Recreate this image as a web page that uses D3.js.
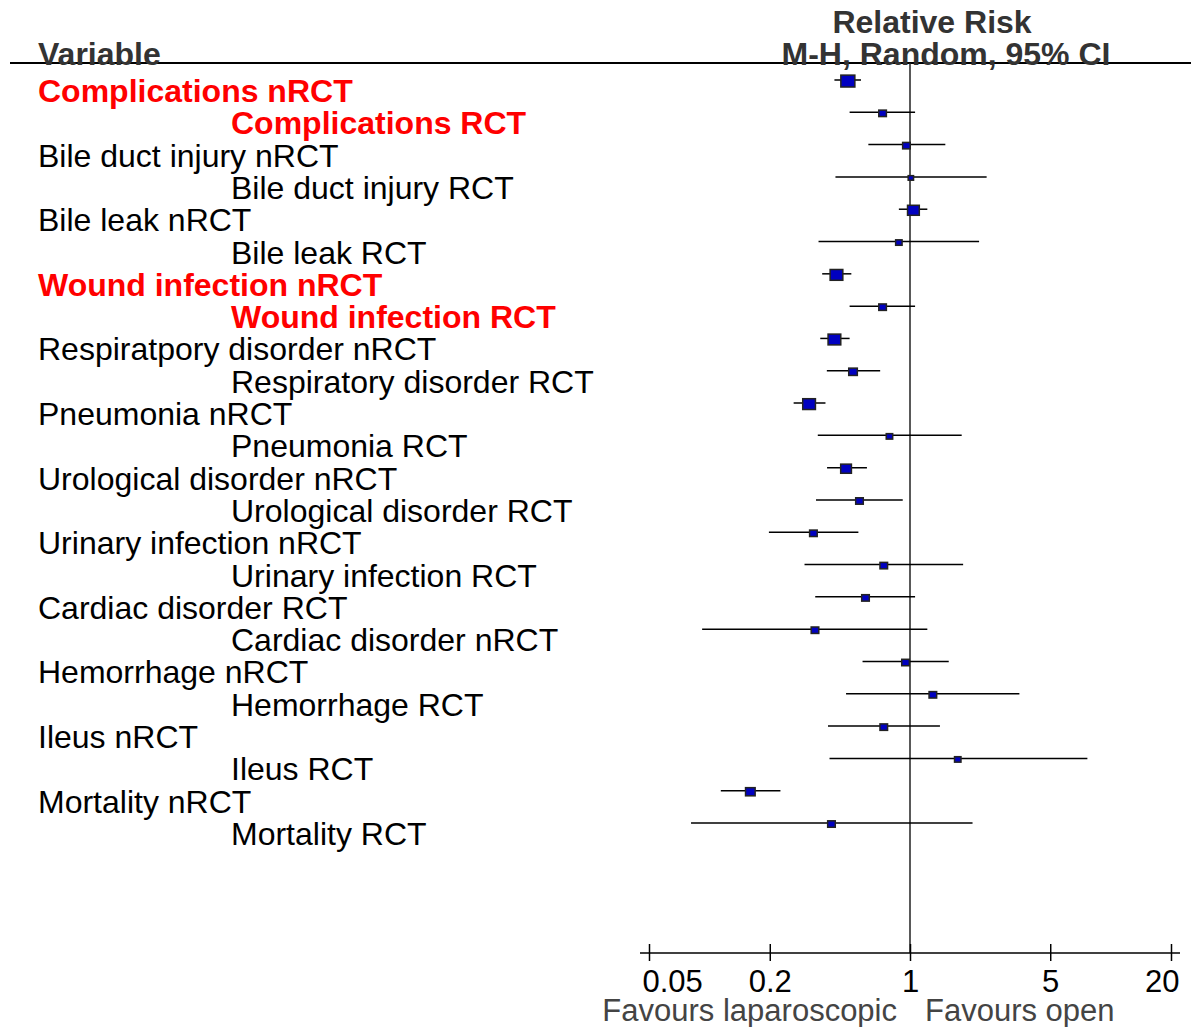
<!DOCTYPE html>
<html>
<head>
<meta charset="utf-8">
<script src="https://cdn.jsdelivr.net/npm/d3@7"></script>
<style>
  body { margin: 0; background: #fff; }
  svg text { font-family: "Liberation Sans", Arial, sans-serif; }
</style>
</head>
<body>
<div class="chart"></div>
<script>
// forest plot data, one entry per row (top to bottom)
var variables = [
  "Complications nRCT", "Complications RCT",
  "Bile duct injury nRCT", "Bile duct injury RCT",
  "Bile leak nRCT", "Bile leak RCT",
  "Wound infection nRCT", "Wound infection RCT",
  "Respiratpory disorder nRCT", "Respiratory disorder RCT",
  "Pneumonia nRCT", "Pneumonia RCT",
  "Urological disorder nRCT", "Urological disorder RCT",
  "Urinary infection nRCT", "Urinary infection RCT",
  "Cardiac disorder RCT", "Cardiac disorder nRCT",
  "Hemorrhage nRCT", "Hemorrhage RCT",
  "Ileus nRCT", "Ileus RCT",
  "Mortality nRCT", "Mortality RCT"
];
var indented = [0,1,0,1,0,1,0,1,0,1,0,1,0,1,0,1,0,1,0,1,0,1,0,1];
var highlighted = [1,1,0,0,0,0,1,1,0,0,0,0,0,0,0,0,0,0,0,0,0,0,0,0];

var rr    = [0.49, 0.73, 0.96, 1.01, 1.04, 0.88, 0.43, 0.73, 0.42, 0.52, 0.314, 0.79,
             0.48, 0.56, 0.33, 0.74, 0.60, 0.336, 0.95, 1.30, 0.74, 1.73, 0.16, 0.406];
var lower = [0.42, 0.50, 0.62, 0.425, 0.88, 0.35, 0.365, 0.50, 0.357, 0.385, 0.263, 0.347,
             0.386, 0.34, 0.198, 0.298, 0.337, 0.092, 0.58, 0.48, 0.39, 0.397, 0.114, 0.081];
var upper = [0.57, 1.06, 1.50, 2.41, 1.22, 2.21, 0.51, 1.06, 0.50, 0.71, 0.379, 1.81,
             0.61, 0.92, 0.553, 1.84, 1.06, 1.22, 1.56, 3.51, 1.41, 7.66, 0.226, 2.05];
var weight = [17, 5, 5, 2.5, 12, 3.6, 14, 5, 14, 6.4, 14, 3.6,
              10, 5, 5, 5, 5, 5, 5, 5, 5, 3.6, 8, 5];

var tickValues = [0.05, 0.2, 1, 5, 20];

var svgWidth = 1191;
var svgHeight = 1027;

var svg = d3.select(".chart")
  .append("svg")
  .attr("width", svgWidth)
  .attr("height", svgHeight);

var xScale = d3.scaleLog()
  .domain([0.05, 20])
  .range([649, 1171]);

var yScale = d3.scalePoint()
  .domain(d3.range(variables.length))
  .range([80, 823]);

var boxScale = d3.scaleSqrt()
  .domain([0, d3.max(weight)])
  .range([0, 14]);

var axisY = 953;
var axisLeft = xScale(0.05) - 9,
    axisRight = xScale(20) + 9;

// header
svg.append("line")
  .attr("x1", 10).attr("x2", svgWidth)
  .attr("y1", 63).attr("y2", 63)
  .attr("stroke", "#000").attr("stroke-width", 2);

svg.append("text")
  .attr("x", 38).attr("y", 65)
  .attr("font-size", 32).attr("font-weight", "bold")
  .attr("fill", "#333")
  .text("Variable");

svg.append("text")
  .attr("x", 932).attr("y", 33)
  .attr("text-anchor", "middle")
  .attr("font-size", 32).attr("font-weight", "bold")
  .attr("fill", "#333")
  .text("Relative Risk");

svg.append("text")
  .attr("x", 946).attr("y", 65)
  .attr("text-anchor", "middle")
  .attr("font-size", 32).attr("font-weight", "bold")
  .attr("fill", "#333")
  .text("M-H, Random, 95% CI");

// no-effect line
svg.append("line")
  .attr("x1", xScale(1)).attr("x2", xScale(1))
  .attr("y1", 63).attr("y2", axisY)
  .attr("stroke", "#222").attr("stroke-width", 1.5);

// row labels
svg.append("g").selectAll("text")
  .data(variables)
  .enter()
  .append("text")
  .attr("x", function(d, i) { return indented[i] ? 231 : 38; })
  .attr("y", function(d, i) { return yScale(i) + 22; })
  .attr("font-size", 32)
  .attr("font-weight", function(d, i) { return highlighted[i] ? "bold" : "normal"; })
  .attr("fill", function(d, i) { return highlighted[i] ? "#ff0000" : "#000"; })
  .text(function(d) { return d; });

// CI lines and boxes
var rows = svg.append("g").selectAll("g")
  .data(variables)
  .enter()
  .append("g");

rows.append("line")
  .attr("x1", function(d, i) { return xScale(lower[i]); })
  .attr("x2", function(d, i) { return xScale(upper[i]); })
  .attr("y1", function(d, i) { return yScale(i); })
  .attr("y2", function(d, i) { return yScale(i); })
  .attr("stroke", "#000").attr("stroke-width", 1.5);

rows.append("rect")
  .attr("x", function(d, i) { return xScale(rr[i]) - boxScale(weight[i]) / 2; })
  .attr("y", function(d, i) { return yScale(i) + 1 - boxScale(weight[i]) * 0.42; })
  .attr("width", function(d, i) { return boxScale(weight[i]); })
  .attr("height", function(d, i) { return boxScale(weight[i]) * 0.85; })
  .attr("fill", "#0000c0")
  .attr("stroke", "#222").attr("stroke-width", 1.5);

// x axis
var bottomAxis = d3.axisBottom(xScale)
  .tickValues(tickValues)
  .tickFormat(function(d) { return d; })
  .tickSize(0);

var axisG = svg.append("g")
  .attr("transform", "translate(0," + axisY + ")")
  .call(bottomAxis);

axisG.select(".domain").remove();
axisG.append("line")
  .attr("x1", axisLeft).attr("x2", axisRight)
  .attr("stroke", "#000").attr("stroke-width", 1.5);
axisG.selectAll(".tick line")
  .attr("y1", -9).attr("y2", 8)
  .attr("stroke", "#000").attr("stroke-width", 1.5);
axisG.selectAll(".tick text")
  .attr("y", 39).attr("dy", 0)
  .attr("font-family", "Liberation Sans, Arial, sans-serif")
  .attr("font-size", 31)
  .attr("fill", "#000");

// end labels are pulled inside the axis line
axisG.selectAll(".tick")
  .filter(function(d) { return d === 0.05; })
  .select("text")
  .attr("text-anchor", "start")
  .attr("x", axisLeft + 2 - xScale(0.05));
axisG.selectAll(".tick")
  .filter(function(d) { return d === 20; })
  .select("text")
  .attr("text-anchor", "end")
  .attr("x", axisRight - 1 - xScale(20));

svg.append("text")
  .attr("x", 897).attr("y", 1021)
  .attr("text-anchor", "end")
  .attr("font-size", 31).attr("fill", "#444")
  .text("Favours laparoscopic");

svg.append("text")
  .attr("x", 925).attr("y", 1021)
  .attr("font-size", 31).attr("fill", "#444")
  .text("Favours open");
</script>
</body>
</html>
